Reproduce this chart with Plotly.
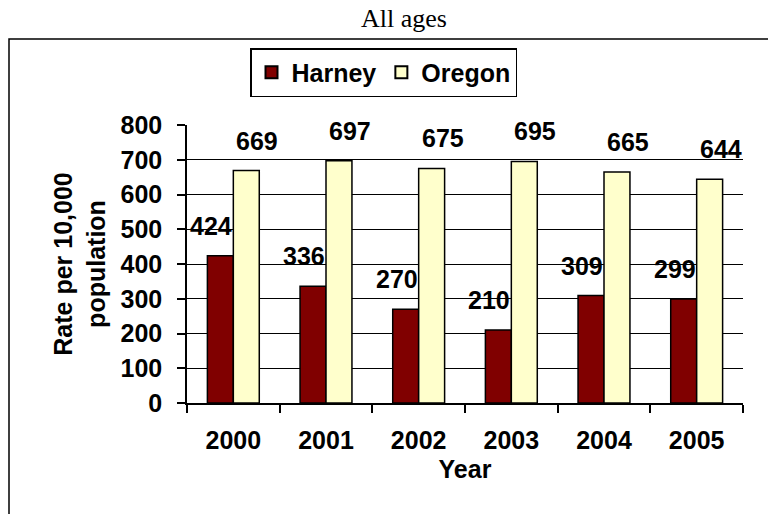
import plotly.graph_objects as go

years = ["2000", "2001", "2002", "2003", "2004", "2005"]
harney = [424, 336, 270, 210, 309, 299]
oregon = [669, 697, 675, 695, 665, 644]
series_names = ["Harney", "Oregon"]
y_ticks = [0, 100, 200, 300, 400, 500, 600, 700, 800]

W, H = 768, 514
ML, MR, MT, MB = 187, 25, 125, 111
PW = W - ML - MR
PH = H - MT - MB
BARGAP = 0.44
FS = 25

FONT = "Arial, 'Liberation Sans', sans-serif"
SERIF = "'Times New Roman', 'Liberation Serif', serif"

fig = go.Figure()
fig.add_trace(go.Bar(name=series_names[0], x=years, y=harney,
                     marker=dict(color="#800000", line=dict(color="black", width=1.5))))
fig.add_trace(go.Bar(name=series_names[1], x=years, y=oregon,
                     marker=dict(color="#FFFFCC", line=dict(color="black", width=1.5))))

# data labels placed relative to each bar (x given as category index)
cat_w = PW / len(years)
bar_w = cat_w * (1 - BARGAP) / 2
for vals, shift in ((harney, -bar_w / 2 - 9), (oregon, bar_w / 2 + 11)):
    for i, v in enumerate(vals):
        fig.add_annotation(x=i, y=v, xref="x", yref="y", text=str(v), showarrow=False,
                           xshift=shift, yshift=30, yanchor="middle", xanchor="center",
                           font=dict(family=FONT, size=FS, color="black", weight="bold"))

fig.add_shape(type="rect", xref="paper", yref="paper",
              x0=(9 - ML) / PW, x1=1.3, y0=-0.6, y1=(H - MB - 39) / PH,
              line=dict(color="black", width=1.5), fillcolor="rgba(0,0,0,0)", layer="below")

fig.update_layout(
    width=W, height=H,
    margin=dict(l=ML, r=MR, t=MT, b=MB),
    paper_bgcolor="white", plot_bgcolor="white",
    barmode="group", bargap=BARGAP, bargroupgap=0,
    showlegend=True,
    title=dict(text="All ages", x=404 / W, xref="container", xanchor="center",
               y=1 - 18 / H, yref="container", yanchor="middle",
               font=dict(family=SERIF, size=26, color="black")),
    legend=dict(orientation="h", x=(250 - ML) / PW, xanchor="left",
                y=(H - MB - 48) / PH, yanchor="top",
                bordercolor="black", borderwidth=1.5, bgcolor="white",
                font=dict(family=FONT, size=FS, color="black", weight="bold"),
                itemsizing="constant", traceorder="normal"),
    xaxis=dict(type="category", range=[-0.5, len(years) - 0.5], showline=True,
               linecolor="black", linewidth=1.5,
               ticks="outside", tickson="boundaries", ticklen=8, tickcolor="black", tickwidth=1.5,
               tickfont=dict(family=FONT, size=FS, color="black", weight="bold"),
               ticklabelstandoff=14, tickangle=0,
               title=dict(text="Year", standoff=8,
                          font=dict(family=FONT, size=FS, color="black", weight="bold"))),
    yaxis=dict(range=[0, 800], tickvals=y_ticks, showline=True, linecolor="black", linewidth=1.5,
               ticks="outside", ticklen=8, tickcolor="black", tickwidth=1.5,
               showgrid=True, gridcolor="black", gridwidth=1.2, zeroline=False,
               tickfont=dict(family=FONT, size=FS, color="black", weight="bold"),
               ticklabelstandoff=10,
               title=dict(text="Rate per 10,000<br>population", standoff=8,
                          font=dict(family=FONT, size=FS, color="black", weight="bold"))),
)

fig.write_html("out.html", config={"displayModeBar": False},
               post_script="document.body.style.margin='0';")
